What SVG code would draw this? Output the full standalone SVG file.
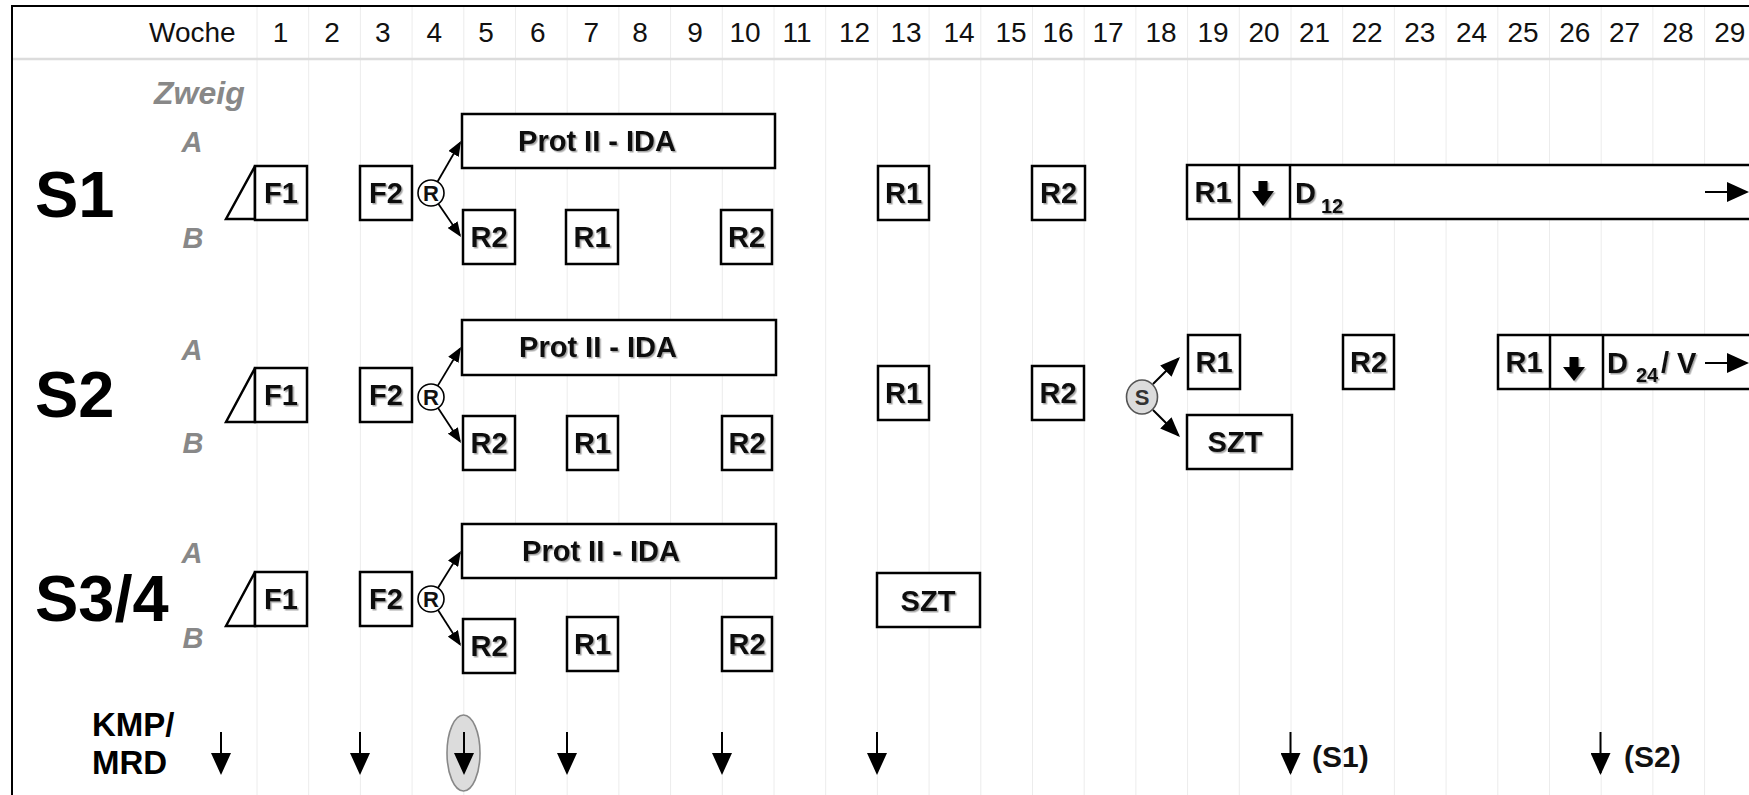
<svg xmlns="http://www.w3.org/2000/svg" width="1749" height="795" viewBox="0 0 1749 795">
<defs>
<style>
text{font-family:"Liberation Sans",Arial,sans-serif}
.wk{font-size:28px;fill:#111;text-anchor:middle}
.grid{stroke:#ececec;stroke-width:1}
.box{fill:#fff;stroke:#000;stroke-width:2.5}
.bl{font-size:29px;font-weight:bold;fill:#111;text-anchor:middle}
.bl2{font-size:29px;font-weight:bold;fill:#111}
.sub{font-size:20px;font-weight:bold;fill:#111}
.sl{font-size:65px;font-weight:bold;fill:#000}
.ab{font-size:29px;font-weight:bold;font-style:italic;fill:#888;text-anchor:middle}
.rc{fill:#fff;stroke:#000;stroke-width:1.6}
.rt{font-size:22px;font-weight:bold;fill:#111;text-anchor:middle}
.arr{stroke:#000;stroke-width:1.8;fill:none}
.arrl{stroke:#000;stroke-width:2;fill:none}
.kmp{font-size:33px;font-weight:bold;fill:#000}
.sx{font-size:30px;font-weight:bold;fill:#111}
</style>
<filter id="sh" x="-20%" y="-20%" width="140%" height="140%">
<feDropShadow dx="1.5" dy="1.5" stdDeviation="0.6" flood-color="#000" flood-opacity="0.35"/>
</filter>
<marker id="ahs" markerUnits="userSpaceOnUse" markerWidth="15" markerHeight="12" refX="13" refY="6" orient="auto">
<path d="M0,0 L15,6 L0,12 z" fill="#000"/>
</marker>
<marker id="ahm" markerUnits="userSpaceOnUse" markerWidth="20" markerHeight="16" refX="18" refY="8" orient="auto">
<path d="M0,0 L20,8 L0,16 z" fill="#000"/>
</marker>
<marker id="ahl" markerUnits="userSpaceOnUse" markerWidth="22" markerHeight="20" refX="20" refY="10" orient="auto">
<path d="M0,0 L22,10 L0,20 z" fill="#000"/>
</marker>
</defs>
<rect x="0" y="0" width="1749" height="795" fill="#fff"/>
<g id="grid">
<line class="grid" x1="257" y1="7" x2="257" y2="795"/>
<line class="grid" x1="308.7" y1="7" x2="308.7" y2="795"/>
<line class="grid" x1="360.4" y1="7" x2="360.4" y2="795"/>
<line class="grid" x1="412.1" y1="7" x2="412.1" y2="795"/>
<line class="grid" x1="463.8" y1="7" x2="463.8" y2="795"/>
<line class="grid" x1="515.5" y1="7" x2="515.5" y2="795"/>
<line class="grid" x1="567.2" y1="7" x2="567.2" y2="795"/>
<line class="grid" x1="618.9" y1="7" x2="618.9" y2="795"/>
<line class="grid" x1="670.6" y1="7" x2="670.6" y2="795"/>
<line class="grid" x1="722.3" y1="7" x2="722.3" y2="795"/>
<line class="grid" x1="774" y1="7" x2="774" y2="795"/>
<line class="grid" x1="825.7" y1="7" x2="825.7" y2="795"/>
<line class="grid" x1="877.4" y1="7" x2="877.4" y2="795"/>
<line class="grid" x1="929.1" y1="7" x2="929.1" y2="795"/>
<line class="grid" x1="980.8" y1="7" x2="980.8" y2="795"/>
<line class="grid" x1="1032.5" y1="7" x2="1032.5" y2="795"/>
<line class="grid" x1="1084.2" y1="7" x2="1084.2" y2="795"/>
<line class="grid" x1="1135.9" y1="7" x2="1135.9" y2="795"/>
<line class="grid" x1="1187.6" y1="7" x2="1187.6" y2="795"/>
<line class="grid" x1="1239.3" y1="7" x2="1239.3" y2="795"/>
<line class="grid" x1="1291" y1="7" x2="1291" y2="795"/>
<line class="grid" x1="1342.7" y1="7" x2="1342.7" y2="795"/>
<line class="grid" x1="1394.4" y1="7" x2="1394.4" y2="795"/>
<line class="grid" x1="1446.1" y1="7" x2="1446.1" y2="795"/>
<line class="grid" x1="1497.8" y1="7" x2="1497.8" y2="795"/>
<line class="grid" x1="1549.5" y1="7" x2="1549.5" y2="795"/>
<line class="grid" x1="1601.2" y1="7" x2="1601.2" y2="795"/>
<line class="grid" x1="1652.9" y1="7" x2="1652.9" y2="795"/>
<line class="grid" x1="1704.6" y1="7" x2="1704.6" y2="795"/>
<line x1="12" y1="59" x2="1749" y2="59" stroke="#dcdcdc" stroke-width="2.5"/>
<rect x="12" y="6" width="1800" height="900" fill="none" stroke="#000" stroke-width="2"/>
</g>
<g id="header">
<text x="149" y="42" style="font-size:28px;fill:#111">Woche</text>
<text class="wk" x="280.5" y="42">1</text>
<text class="wk" x="332" y="42">2</text>
<text class="wk" x="382.7" y="42">3</text>
<text class="wk" x="434.4" y="42">4</text>
<text class="wk" x="486" y="42">5</text>
<text class="wk" x="537.7" y="42">6</text>
<text class="wk" x="591.3" y="42">7</text>
<text class="wk" x="640" y="42">8</text>
<text class="wk" x="695" y="42">9</text>
<text class="wk" x="745" y="42">10</text>
<text class="wk" x="797" y="42">11</text>
<text class="wk" x="854.5" y="42">12</text>
<text class="wk" x="906" y="42">13</text>
<text class="wk" x="959" y="42">14</text>
<text class="wk" x="1011" y="42">15</text>
<text class="wk" x="1058" y="42">16</text>
<text class="wk" x="1108" y="42">17</text>
<text class="wk" x="1161" y="42">18</text>
<text class="wk" x="1213" y="42">19</text>
<text class="wk" x="1264" y="42">20</text>
<text class="wk" x="1314.6" y="42">21</text>
<text class="wk" x="1367" y="42">22</text>
<text class="wk" x="1419.8" y="42">23</text>
<text class="wk" x="1471.5" y="42">24</text>
<text class="wk" x="1523" y="42">25</text>
<text class="wk" x="1574.8" y="42">26</text>
<text class="wk" x="1624.5" y="42">27</text>
<text class="wk" x="1678" y="42">28</text>
<text class="wk" x="1729.8" y="42">29</text>
<text x="154" y="104" style="font-size:32px;font-weight:bold;font-style:italic;fill:#888">Zweig</text>
</g>
<g id="labels">
<text class="sl" x="35" y="217">S1</text>
<text class="ab" x="192" y="152">A</text>
<text class="ab" x="193" y="248">B</text>
<text class="sl" x="35" y="417">S2</text>
<text class="ab" x="192" y="360">A</text>
<text class="ab" x="193" y="453">B</text>
<text class="sl" x="35" y="621">S3/4</text>
<text class="ab" x="192" y="563">A</text>
<text class="ab" x="193" y="648">B</text>
</g>
<g id="s1-f1">
<polygon class="box" points="226,219 255,166 255,219"/>
<rect class="box" x="255" y="166" width="52" height="54"/>
<text class="bl" x="281" y="203" filter="url(#sh)">F1</text>
</g>
<g id="s1-f2">
<rect class="box" x="360" y="166" width="52" height="54"/>
<text class="bl" x="386" y="203" filter="url(#sh)">F2</text>
</g>
<g id="s1-r">
<circle class="rc" cx="431" cy="193" r="13"/>
<text class="rt" x="431" y="201">R</text>
</g>
<g id="s1-prot">
<rect class="box" x="462" y="114" width="313" height="54"/>
<text class="bl" x="597" y="151" filter="url(#sh)">Prot II - IDA</text>
</g>
<g id="s1-b-r2a">
<rect class="box" x="463" y="210" width="52" height="54"/>
<text class="bl" x="489" y="247" filter="url(#sh)">R2</text>
</g>
<g id="s1-b-r1">
<rect class="box" x="566" y="210" width="52" height="54"/>
<text class="bl" x="592" y="247" filter="url(#sh)">R1</text>
</g>
<g id="s1-b-r2b">
<rect class="box" x="721" y="210" width="51" height="54"/>
<text class="bl" x="746.5" y="247" filter="url(#sh)">R2</text>
</g>
<g id="s1-r1">
<rect class="box" x="878" y="166" width="51" height="54"/>
<text class="bl" x="903.5" y="203" filter="url(#sh)">R1</text>
</g>
<g id="s1-r2">
<rect class="box" x="1032" y="166" width="53" height="54"/>
<text class="bl" x="1058.5" y="203" filter="url(#sh)">R2</text>
</g>
<g id="s1-d12">
<rect class="box" x="1187" y="165" width="700" height="54"/>
<line x1="1239" y1="165" x2="1239" y2="219" stroke="#000" stroke-width="2.5"/>
<line x1="1290" y1="165" x2="1290" y2="219" stroke="#000" stroke-width="2.5"/>
<text class="bl" x="1213" y="202" filter="url(#sh)">R1</text>
<polygon points="1258.5,181 1267.5,181 1267.5,191 1274,191 1263,206 1252,191 1258.5,191" fill="#000" filter="url(#sh)"/>
<text class="bl2" x="1295" y="203" filter="url(#sh)">D</text>
<text class="sub" x="1321" y="213" filter="url(#sh)">12</text>
<line class="arrl" x1="1705" y1="192" x2="1747" y2="192" marker-end="url(#ahl)"/>
</g>
<g id="s2-f1">
<polygon class="box" points="226,422 255,368 255,422"/>
<rect class="box" x="255" y="368" width="52" height="54"/>
<text class="bl" x="281" y="405" filter="url(#sh)">F1</text>
</g>
<g id="s2-f2">
<rect class="box" x="360" y="368" width="52" height="54"/>
<text class="bl" x="386" y="405" filter="url(#sh)">F2</text>
</g>
<g id="s2-r">
<circle class="rc" cx="431" cy="397" r="13"/>
<text class="rt" x="431" y="405">R</text>
</g>
<g id="s2-prot">
<rect class="box" x="462" y="320" width="314" height="55"/>
<text class="bl" x="598" y="357" filter="url(#sh)">Prot II - IDA</text>
</g>
<g id="s2-b-r2a">
<rect class="box" x="463" y="416" width="52" height="54"/>
<text class="bl" x="489" y="453" filter="url(#sh)">R2</text>
</g>
<g id="s2-b-r1">
<rect class="box" x="567" y="416" width="51" height="54"/>
<text class="bl" x="592.5" y="453" filter="url(#sh)">R1</text>
</g>
<g id="s2-b-r2b">
<rect class="box" x="722" y="416" width="50" height="54"/>
<text class="bl" x="747" y="453" filter="url(#sh)">R2</text>
</g>
<g id="s2-r1">
<rect class="box" x="878" y="366" width="51" height="54"/>
<text class="bl" x="903.5" y="403" filter="url(#sh)">R1</text>
</g>
<g id="s2-r2">
<rect class="box" x="1032" y="366" width="52" height="54"/>
<text class="bl" x="1058" y="403" filter="url(#sh)">R2</text>
</g>
<g id="s2-s">
<ellipse cx="1142" cy="397" rx="15.5" ry="17" fill="#dcdcdc" stroke="#555" stroke-width="1.6"/>
<text class="rt" x="1142" y="405" style="fill:#333">S</text>
</g>
<g id="s2-r1b">
<rect class="box" x="1188" y="335" width="52" height="54"/>
<text class="bl" x="1214" y="372" filter="url(#sh)">R1</text>
</g>
<g id="s2-szt">
<rect class="box" x="1187" y="415" width="105" height="54"/>
<text class="bl" x="1235" y="452" filter="url(#sh)">SZT</text>
</g>
<g id="s2-r2b">
<rect class="box" x="1343" y="335" width="51" height="54"/>
<text class="bl" x="1368.5" y="372" filter="url(#sh)">R2</text>
</g>
<g id="s2-d24">
<rect class="box" x="1498" y="335" width="400" height="54"/>
<line x1="1550" y1="335" x2="1550" y2="389" stroke="#000" stroke-width="2.5"/>
<line x1="1603" y1="335" x2="1603" y2="389" stroke="#000" stroke-width="2.5"/>
<text class="bl" x="1524" y="372" filter="url(#sh)">R1</text>
<polygon points="1569.5,357 1578.5,357 1578.5,367 1585,367 1574,381 1563,367 1569.5,367" fill="#000" filter="url(#sh)"/>
<text class="bl2" x="1607" y="373" filter="url(#sh)">D</text>
<text class="sub" x="1636" y="382" filter="url(#sh)">24</text>
<text class="bl2" x="1661" y="373" filter="url(#sh)">/ V</text>
<line class="arrl" x1="1705" y1="363" x2="1747" y2="363" marker-end="url(#ahl)"/>
</g>
<g id="s3-f1">
<polygon class="box" points="226,626 255,572 255,626"/>
<rect class="box" x="255" y="572" width="52" height="54"/>
<text class="bl" x="281" y="609" filter="url(#sh)">F1</text>
</g>
<g id="s3-f2">
<rect class="box" x="360" y="572" width="52" height="54"/>
<text class="bl" x="386" y="609" filter="url(#sh)">F2</text>
</g>
<g id="s3-r">
<circle class="rc" cx="431" cy="599" r="13"/>
<text class="rt" x="431" y="607">R</text>
</g>
<g id="s3-prot">
<rect class="box" x="462" y="524" width="314" height="54"/>
<text class="bl" x="601" y="561" filter="url(#sh)">Prot II - IDA</text>
</g>
<g id="s3-b-r2a">
<rect class="box" x="463" y="619" width="52" height="54"/>
<text class="bl" x="489" y="656" filter="url(#sh)">R2</text>
</g>
<g id="s3-b-r1">
<rect class="box" x="567" y="617" width="51" height="54"/>
<text class="bl" x="592.5" y="654" filter="url(#sh)">R1</text>
</g>
<g id="s3-b-r2b">
<rect class="box" x="722" y="617" width="50" height="54"/>
<text class="bl" x="747" y="654" filter="url(#sh)">R2</text>
</g>
<g id="s3-szt">
<rect class="box" x="877" y="573" width="103" height="54"/>
<text class="bl" x="928" y="611" filter="url(#sh)">SZT</text>
</g>
<g id="connectors">
<line class="arr" x1="437.5" y1="181.7" x2="460" y2="142.7" marker-end="url(#ahs)"/>
<line class="arr" x1="438.3" y1="203.7" x2="459.9" y2="235.3" marker-end="url(#ahs)"/>
<line class="arr" x1="437.7" y1="385.9" x2="460" y2="348.7" marker-end="url(#ahs)"/>
<line class="arr" x1="438.1" y1="407.9" x2="459.9" y2="441.3" marker-end="url(#ahs)"/>
<line class="arr" x1="437.9" y1="588" x2="459.9" y2="552.7" marker-end="url(#ahs)"/>
<line class="arr" x1="438" y1="610" x2="459.9" y2="644.3" marker-end="url(#ahs)"/>
<line class="arrl" x1="1153" y1="384" x2="1178.6" y2="358.5" marker-end="url(#ahm)"/>
<line class="arrl" x1="1153" y1="410" x2="1178.6" y2="435.5" marker-end="url(#ahm)"/>
</g>
<g id="kmp">
<text class="kmp"><tspan x="92" y="736">KMP/</tspan><tspan x="92" y="774">MRD</tspan></text>
<ellipse cx="463.5" cy="753" rx="16.5" ry="38" fill="#dcdcdc" stroke="#888" stroke-width="1.6"/>
<line class="arrl" x1="221" y1="732" x2="221" y2="773" marker-end="url(#ahl)"/>
<line class="arrl" x1="360" y1="732" x2="360" y2="773" marker-end="url(#ahl)"/>
<line class="arrl" x1="464" y1="732" x2="464" y2="773" marker-end="url(#ahl)"/>
<line class="arrl" x1="567" y1="732" x2="567" y2="773" marker-end="url(#ahl)"/>
<line class="arrl" x1="722" y1="732" x2="722" y2="773" marker-end="url(#ahl)"/>
<line class="arrl" x1="877" y1="732" x2="877" y2="773" marker-end="url(#ahl)"/>
<line class="arrl" x1="1290.5" y1="732" x2="1290.5" y2="773" marker-end="url(#ahl)"/>
<line class="arrl" x1="1600.5" y1="732" x2="1600.5" y2="773" marker-end="url(#ahl)"/>
<text class="sx" x="1312" y="767">(S1)</text>
<text class="sx" x="1624" y="767">(S2)</text>
</g>
</svg>
